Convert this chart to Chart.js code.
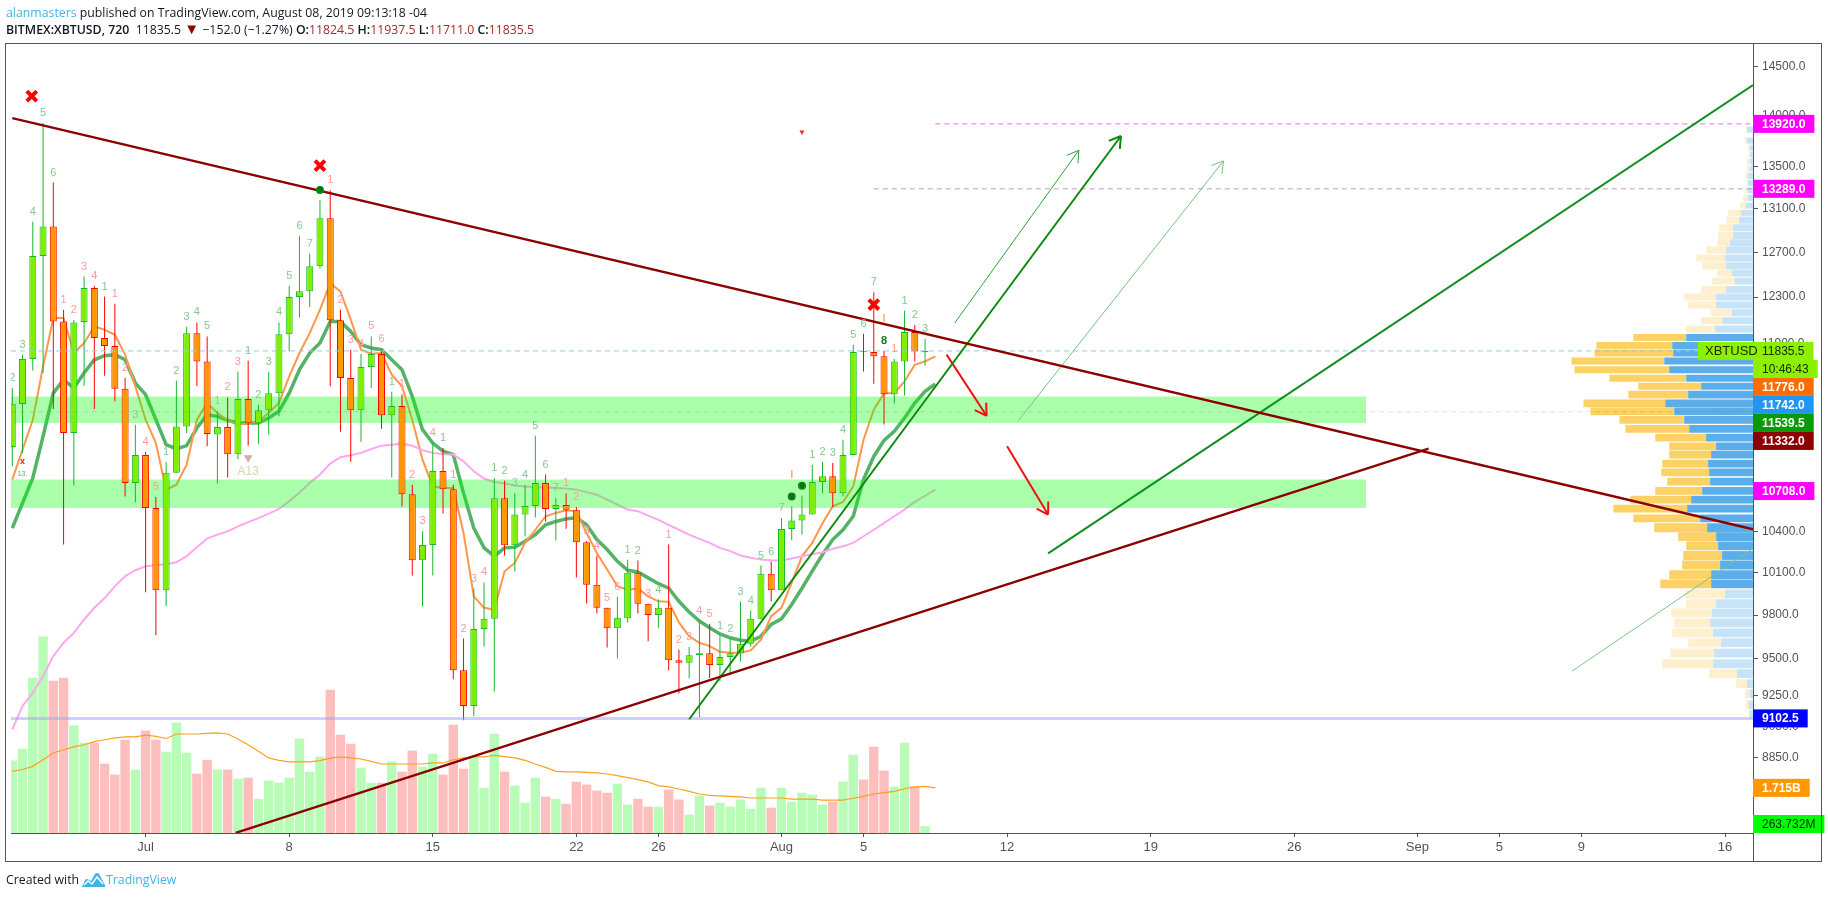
<!DOCTYPE html>
<html>
<head>
<meta charset="utf-8">
<title>XBTUSD</title>
<script src="https://cdn.jsdelivr.net/npm/chart.js@4.4.0/dist/chart.umd.min.js"></script>
<style>
    html, body { margin: 0; background: #fff; overflow: hidden; }
    body { width: 1828px; height: 898px; position: relative; font-family: "Open Sans", sans-serif; color: #131722; }
    canvas { position: absolute; left: 0; top: 0; display: block; }
    .line { position: absolute; left: 6px; white-space: nowrap; font-size: 12.3px; line-height: 18px; }
    .line b { font-weight: 600; }
    .blue { color: #3fb4e6; }
    .red { color: #a52a2a; }
    .mark { color: #8b0000; font-size: 15px; line-height: 10px; }
    .frame { position: absolute; left: 5px; top: 43px; width: 1815px; height: 817px; border: 1px solid #50535e; pointer-events: none; }
    .stub { position: absolute; left: 1753px; top: 833px; width: 1px; height: 28px; background: #50535e; }
    .logo { position: absolute; left: 82px; top: 872px; }
</style>
</head>
<body>
<canvas id="chart" width="1828" height="898"></canvas>
<div class="frame"></div>
<div class="stub"></div>
<div class="line" style="top:4px"><span class="blue">alanmasters</span> published on TradingView.com, August 08, 2019 09:13:18 -04</div>
<div class="line" style="top:21px"><b>BITMEX:XBTUSD, 720</b>&nbsp; 11835.5 <span class="mark">▼</span> −152.0 (−1.27%) <b>O:</b><span class="red">11824.5</span> <b>H:</b><span class="red">11937.5</span> <b>L:</b><span class="red">11711.0</span> <b>C:</b><span class="red">11835.5</span></div>
<div class="line" style="top:871px">Created with</div>
<svg class="logo" width="24" height="16" viewBox="0 0 24 16"><path d="M0 15 L3 8 Q5 6 7 8 L9 9 L13 2 Q15 0 17 2 L23 13 L23 15 Z" fill="#3fb4e6"/><path d="M2 13 L6 9 L10 12 L15 5 L21 12" fill="none" stroke="#fff" stroke-width="1.4"/></svg>
<div class="line blue" style="top:871px;left:106px">TradingView</div>

<script>
// XBTUSD 12h bars, bar 0 is Jul 1
const firstBar = -13;
const barOpen = [11051, 11395, 11767, 12665, 12936, 12088, 11161, 12082, 12379, 11945, 11877, 11521, 10770, 10988, 10580, 9976, 10848, 11214, 11987, 11747, 11150, 11209, 10993, 11435, 11240, 11344, 11484, 11978, 12300, 12352, 12574, 13013, 12097, 11609, 11344, 11700, 11810, 11303, 11378, 10684, 10191, 10304, 10863, 10722, 9422, 9184, 9703, 9774, 10654, 10302, 10530, 10595, 10770, 10572, 10602, 10565, 10324, 10014, 9851, 9708, 9778, 10100, 9879, 9800, 9851, 9489, 9471, 9522, 9536, 9456, 9511, 9536, 9601, 9774, 10093, 9976, 10421, 10485, 10530, 10777, 10822, 10692, 10988, 11832, 11826, 11790, 11475, 11747, 11996, 11824.5];
const barHigh = [11526, 11804, 12979, 13925, 13349, 12189, 12101, 12482, 12400, 12305, 12241, 11609, 11228, 11012, 10662, 10932, 11585, 12041, 12079, 11959, 11336, 11449, 11663, 11752, 11390, 11661, 12079, 12400, 12850, 12686, 13184, 13275, 12189, 11845, 11810, 11959, 11850, 11495, 11475, 10757, 10404, 11082, 11043, 10757, 9637, 9988, 10031, 10809, 10788, 10692, 10757, 11140, 10835, 10654, 10692, 10587, 10330, 10226, 9851, 9928, 10196, 10189, 9879, 9909, 10307, 9562, 9580, 9756, 9740, 9658, 9637, 9895, 9832, 10153, 10182, 10502, 10590, 10672, 10912, 10935, 10925, 11108, 11888, 11981, 12343, 11836, 11767, 12180, 12056, 11937.5];
const barLow = [10899, 11004, 11672, 11650, 11355, 10307, 10752, 11545, 11355, 11628, 11417, 10667, 10622, 9961, 9660, 9862, 10848, 11161, 11540, 11056, 10765, 10812, 10955, 11061, 11077, 11148, 11295, 11830, 12122, 12212, 12553, 11540, 11172, 10935, 11092, 11526, 11195, 10812, 10590, 10081, 9860, 10081, 10537, 9360, 9090, 9116, 9583, 9280, 10226, 10110, 10368, 10507, 10476, 10336, 10424, 10067, 9881, 9811, 9575, 9500, 9749, 9811, 9619, 9712, 9422, 9266, 9367, 9111, 9367, 9349, 9389, 9480, 9580, 9769, 9895, 9976, 10338, 10380, 10530, 10692, 10587, 10667, 10988, 11663, 11562, 11230, 11400, 11465, 11747, 11711];
const barClose = [11398, 11768, 12665, 12936, 12088, 11161, 12079, 12379, 11945, 11877, 11521, 10770, 10988, 10580, 9976, 10848, 11214, 11987, 11747, 11153, 11209, 10993, 11435, 11240, 11344, 11484, 11978, 12300, 12352, 12574, 13013, 12097, 11609, 11344, 11700, 11810, 11303, 11378, 10684, 10191, 10304, 10863, 10722, 9422, 9184, 9703, 9774, 10654, 10302, 10530, 10595, 10770, 10572, 10602, 10565, 10324, 10014, 9851, 9708, 9781, 10100, 9879, 9800, 9851, 9489, 9471, 9522, 9536, 9456, 9511, 9536, 9601, 9774, 10093, 9976, 10421, 10485, 10530, 10777, 10822, 10692, 10988, 11826, 11826, 11790, 11475, 11747, 11996, 11830, 11835.5];
// volume in billions
const barVolume = [2.75, 3.20, 5.90, 7.46, 5.78, 5.90, 4.08, 3.43, 3.43, 2.63, 2.22, 3.54, 2.41, 3.89, 3.54, 3.09, 4.19, 3.05, 2.25, 2.78, 2.41, 2.41, 2.06, 2.10, 1.30, 1.99, 1.91, 2.10, 3.58, 2.33, 2.90, 5.44, 3.73, 3.39, 2.48, 1.91, 1.91, 2.71, 2.33, 3.13, 2.52, 3.01, 2.22, 4.11, 2.44, 2.90, 1.72, 3.77, 2.33, 1.80, 1.15, 2.10, 1.38, 1.30, 1.11, 1.95, 1.84, 1.61, 1.53, 1.87, 1.08, 1.30, 1.00, 1.00, 1.65, 1.27, 0.70, 1.42, 1.04, 1.15, 1.00, 1.27, 0.92, 1.72, 0.96, 1.72, 1.19, 1.53, 1.46, 1.08, 1.19, 1.95, 2.97, 2.03, 3.28, 2.37, 1.76, 3.43, 1.78, 0.264];
const volumeUp = [1, 1, 1, 1, 0, 0, 1, 1, 0, 0, 0, 0, 1, 0, 0, 1, 1, 1, 0, 0, 1, 0, 1, 0, 1, 1, 1, 1, 1, 1, 1, 0, 0, 0, 1, 1, 0, 1, 0, 0, 1, 1, 0, 0, 0, 1, 1, 1, 0, 1, 1, 1, 0, 1, 0, 0, 0, 0, 0, 1, 1, 0, 0, 1, 0, 0, 1, 1, 0, 1, 1, 1, 1, 1, 0, 1, 1, 1, 1, 1, 0, 1, 1, 0, 0, 0, 1, 1, 0, 1];
// these run one bar past the last candle
const maVolume = [2.34, 2.41, 2.53, 2.78, 3.04, 3.16, 3.27, 3.35, 3.47, 3.54, 3.61, 3.65, 3.65, 3.72, 3.67, 3.59, 3.76, 3.76, 3.76, 3.78, 3.80, 3.76, 3.57, 3.35, 3.10, 2.85, 2.76, 2.70, 2.70, 2.70, 2.75, 2.84, 2.89, 2.85, 2.81, 2.72, 2.62, 2.62, 2.62, 2.62, 2.62, 2.66, 2.66, 2.78, 2.85, 2.89, 2.89, 2.95, 2.90, 2.85, 2.76, 2.62, 2.49, 2.34, 2.32, 2.32, 2.30, 2.28, 2.24, 2.18, 2.10, 2.03, 1.94, 1.80, 1.75, 1.67, 1.58, 1.48, 1.43, 1.41, 1.39, 1.37, 1.33, 1.33, 1.33, 1.33, 1.29, 1.29, 1.29, 1.25, 1.25, 1.25, 1.32, 1.39, 1.48, 1.53, 1.58, 1.68, 1.75, 1.77, 1.715];
const maFast = [10797, 11030, 11268, 11705, 12117, 12117, 11818, 11902, 12045, 12016, 11973, 11804, 11540, 11268, 11082, 10717, 10757, 10912, 11268, 11403, 11322, 11263, 11228, 11241, 11255, 11322, 11403, 11622, 11818, 11987, 12189, 12423, 12349, 12103, 11846, 11812, 11818, 11636, 11540, 11268, 10951, 10744, 10731, 10731, 10392, 9932, 9851, 9839, 10112, 10172, 10319, 10416, 10517, 10542, 10562, 10554, 10392, 10245, 10124, 10005, 9978, 9990, 9932, 9897, 9893, 9749, 9653, 9608, 9585, 9546, 9540, 9540, 9556, 9630, 9792, 9851, 10029, 10220, 10319, 10465, 10592, 10625, 10744, 11108, 11349, 11484, 11484, 11581, 11719, 11747, 11790];
const maMid = [10428, 10617, 10809, 11134, 11484, 11595, 11526, 11650, 11761, 11795, 11804, 11761, 11567, 11471, 11268, 11069, 11035, 11061, 11201, 11309, 11295, 11263, 11241, 11241, 11241, 11282, 11336, 11484, 11678, 11818, 11902, 12088, 12088, 12001, 11888, 11860, 11846, 11761, 11678, 11457, 11188, 11082, 11017, 10991, 10692, 10429, 10282, 10221, 10282, 10287, 10331, 10380, 10453, 10478, 10497, 10507, 10453, 10343, 10270, 10184, 10119, 10107, 10064, 10022, 9990, 9897, 9821, 9758, 9712, 9669, 9642, 9626, 9619, 9653, 9735, 9774, 9874, 9990, 10112, 10233, 10343, 10416, 10517, 10797, 10976, 11103, 11175, 11282, 11403, 11498, 11559];
const maSlow = [9032, 9184, 9271, 9383, 9516, 9608, 9676, 9769, 9851, 9920, 10005, 10076, 10119, 10148, 10155, 10162, 10177, 10221, 10287, 10351, 10380, 10404, 10441, 10473, 10503, 10537, 10572, 10630, 10697, 10770, 10835, 10920, 10970, 10986, 11004, 11035, 11061, 11069, 11077, 11061, 11025, 11004, 10994, 10991, 10938, 10860, 10804, 10778, 10766, 10750, 10743, 10738, 10735, 10732, 10727, 10719, 10700, 10680, 10642, 10605, 10567, 10555, 10522, 10490, 10453, 10416, 10380, 10348, 10319, 10282, 10258, 10226, 10209, 10196, 10191, 10189, 10204, 10221, 10236, 10250, 10275, 10294, 10319, 10368, 10416, 10465, 10517, 10567, 10625, 10672, 10719];
// sequential count printed over each bar
const countDigits = [2, 3, 4, 5, 6, 1, 2, 3, 4, 1, 1, 2, 3, 4, 5, 1, 2, 3, 4, 5, 1, 2, 3, 1, 2, 3, 4, 5, 6, 7, 9, 1, 2, 3, 4, 5, 6, 1, 1, 2, 3, 4, 1, 1, 2, 3, 4, 1, 2, 3, 4, 5, 6, 7, 1, 2, 3, 4, 5, 6, 1, 2, 3, 4, 1, 2, 3, 4, 5, 1, 2, 3, 4, 5, 6, 7, 8, 9, 1, 2, 3, 4, 5, 6, 7, 8, 1, 1, 2, 3];
const countKinds = 'gggggrrrrgrrgrrgggggrrrgggggggGrrrrrrgrrrrgrrrrgggggggrrrrrrggrgrrrrrgggggggGGgggggggGrggg'.split('');
const countCircled = [17, 63, 64];
const crossBars = [-11.1, 17, 71];
const crossPrices = [14199, 13511, 12234];

// volume profile rows, price, then blue and yellow row lengths
const profilePrices = [13862, 13755, 13686, 13618, 13550, 13482, 13412, 13343, 13274, 13203, 13131, 13063, 12995, 12924, 12853, 12786, 12720, 12647, 12577, 12512, 12441, 12367, 12300, 12230, 12163, 12094, 12022, 11950, 11882, 11818, 11750, 11678, 11606, 11540, 11471, 11400, 11336, 11266, 11195, 11124, 11056, 10990, 10920, 10852, 10780, 10710, 10642, 10574, 10501, 10431, 10365, 10297, 10226, 10157, 10088, 10021, 9949, 9881, 9816, 9746, 9676, 9608, 9537, 9465, 9398, 9331, 9264, 9192, 9129];
const profileBlue = [6, 6, 3, 3, 3, 3, 5, 5, 5, 5, 7, 12, 14, 20, 20, 23, 27, 28, 27, 21, 18, 27, 37, 37, 21, 31, 38, 67, 81, 80, 89, 84, 67, 52, 65, 88, 79, 69, 64, 47, 37, 42, 45, 44, 43, 51, 62, 66, 53, 46, 37, 35, 31, 33, 42, 42, 28, 37, 41, 43, 40, 32, 39, 40, 16, 6, 3, 4, 3];
const profileYellow = [1, 2, 2, 1, 3, 3, 2, 1, 3, 5, 6, 13, 13, 14, 15, 13, 20, 29, 24, 15, 23, 25, 32, 28, 21, 21, 29, 53, 76, 79, 93, 95, 77, 63, 60, 82, 84, 65, 64, 51, 47, 42, 46, 48, 43, 47, 61, 74, 67, 53, 38, 32, 39, 38, 42, 51, 40, 30, 41, 36, 41, 33, 44, 51, 28, 11, 5, 3, 1];
const valueAreaHigh = 11950;
const valueAreaLow = 10021;

// drawn zones and lines, bars then prices
const zoneBars = [-14, 119];
const upperZone = [11457, 11241];
const lowerZone = [10797, 10580];
const downTrendBars = [-13, 156.73];
const downTrendPrices = [13978, 10420];
const upTrendBars = [8.78, 125.1];
const upTrendPrices = [8388, 11037];
const channelBars = [88, 156.73];
const channelPrices = [10242, 14311];
const steepBars = [53, 95.1];
const steepPrices = [9097, 13800];
const thinArrowBars = [78.9, 91];
const thinArrowPrices = [12075, 13660];
const paleArrowBars = [85.1, 105.1];
const paleArrowPrices = [11261, 13556];
const paleLineBars = [139.1, 156.73];
const paleLinePrices = [9416, 10277];
const redArrowBars = [78.1, 82];
const redArrowPrices = [11804, 11300];
const redArrow2Bars = [84, 88];
const redArrow2Prices = [11056, 10530];

// axes
const priceTicks = [14500, 14000, 13500, 13100, 12700, 12300, 11900, 11500, 11100, 10700, 10400, 10100, 9800, 9500, 9250, 9050, 8850];
const timeTicks = [0, 14, 28, 42, 50, 62, 70, 84, 98, 112, 124, 132, 140, 154];
const timeLabels = ['Jul', '8', '15', '22', '26', 'Aug', '5', '12', '19', '26', 'Sep', '5', '9', '16'];

// tags on the price axis
const tagPrices = [13920, 13289, 11835.5, null, 11776, 11742, 11539.5, 11332, 10708, 9102.5];
const tagTexts = ['13920.0', '13289.0', '11835.5', '10:46:43', '11776.0', '11742.0', '11539.5', '11332.0', '10708.0', '9102.5'];
const tagColors = ['#ff00ff', '#ff00ff', '#8cf000', '#8cf000', '#ff6d00', '#2196f3', '#089a08', '#8b0000', '#ff00ff', '#0000ff'];
const tagInks = ['#fff', '#fff', '#1a2a00', '#1a2a00', '#fff', '#fff', '#fff', '#fff', '#fff', '#fff'];
const volumeTagValues = [1.715, 0.263732];
const volumeTagTexts = ['1.715B', '263.732M'];
const volumeTagColors = ['#ff9800', '#00ff00'];
const volumeTagInks = ['#fff', '#0a2a0a'];

const UP_FILL = '#80ee00', UP_EDGE = '#14b82c', DOWN_FILL = '#ff9800', DOWN_EDGE = '#ff0000';
const barIndex = barOpen.map((_, k) => firstBar + k);
const maIndex = maFast.map((_, k) => firstBar + k);
const isUp = k => barClose[k] >= barOpen[k];

function pairs(xs, ys) {
    return xs.map((x, k) => ({x: x, y: ys[k]}));
}

// straight line between points on the price scale
function priceLine(xs, ys, color, width, order, extra) {
    return Object.assign({
        type: 'line', data: pairs(xs, ys), borderColor: color, borderWidth: width,
        pointRadius: 0, tension: 0, fill: false, order: order, yAxisID: 'y', xAxisID: 'x'
    }, extra || {});
}

// flat band between two prices
function zone(prices) {
    return priceLine(zoneBars, [prices[0], prices[0]], 'transparent', 0, 90, {
        fill: {value: prices[1]}, backgroundColor: 'rgba(0,255,0,0.333)'
    });
}

// profile rows get taller down the log scale, so split them by thickness
function profileSets() {
    const sets = [];
    [[13000, 20000, 6], [11500, 13000, 7], [10500, 11500, 7.8], [0, 10500, 8.8]].forEach(band => {
        const rows = profilePrices.map((p, k) => k).filter(k => profilePrices[k] >= band[0] && profilePrices[k] < band[1]);
        const inArea = k => profilePrices[k] <= valueAreaHigh && profilePrices[k] >= valueAreaLow;
        const common = {type: 'bar', indexAxis: 'y', order: 70, xAxisID: 'profile', yAxisID: 'y', grouped: false, barThickness: band[2], inflateAmount: 0};
        sets.push(Object.assign({}, common, {
            data: rows.map(k => ({y: profilePrices[k], x: [0, profileBlue[k]]})),
            backgroundColor: rows.map(k => inArea(k) ? '#5baeea' : '#c6e3f7')
        }));
        sets.push(Object.assign({}, common, {
            data: rows.map(k => ({y: profilePrices[k], x: [profileBlue[k], profileBlue[k] + profileYellow[k]]})),
            backgroundColor: rows.map(k => inArea(k) ? '#fcd166' : '#feefcf')
        }));
    });
    return sets;
}

const datasets = [
    // volume sits behind everything
    {
        type: 'bar', order: 120, xAxisID: 'x', yAxisID: 'vol', grouped: false, barThickness: 9.4, inflateAmount: 0,
        data: pairs(barIndex, barVolume),
        backgroundColor: volumeUp.map(v => v ? '#b8fcb8' : '#fdbebe')
    },
    priceLine(maIndex, maVolume, '#ff9f1a', 1.2, 110, {yAxisID: 'vol'}),
    priceLine(maIndex, maSlow, '#ffa6f0', 2, 100),
    priceLine(maIndex, maFast, '#ff9648', 2, 100),
    priceLine(maIndex, maMid, '#55b368', 3.5, 100),
    // zones go over the averages, candles go over the zones
    zone(upperZone),
    zone(lowerZone),
    ...profileSets(),
    // candles
    {
        type: 'bar', order: 60, xAxisID: 'x', yAxisID: 'y', grouped: false, barThickness: 1, inflateAmount: 0,
        data: barIndex.map((x, k) => ({x: x, y: [barLow[k], barHigh[k]]})),
        backgroundColor: barIndex.map((_, k) => isUp(k) ? UP_EDGE : DOWN_EDGE)
    },
    {
        type: 'bar', order: 50, xAxisID: 'x', yAxisID: 'y', grouped: false, barThickness: 7, inflateAmount: 0,
        borderWidth: 1, borderSkipped: false,
        data: barIndex.map((x, k) => ({x: x, y: [barOpen[k], barClose[k]]})),
        backgroundColor: barIndex.map((_, k) => isUp(k) ? UP_FILL : DOWN_FILL),
        borderColor: barIndex.map((_, k) => isUp(k) ? UP_EDGE : DOWN_EDGE)
    },
    // horizontal price lines
    priceLine([-14, 157], [11835.5, 11835.5], '#98c8ee', 1, 40, {borderDash: [5, 4]}),
    priceLine([-14, 157], [11332, 11332], 'rgba(120,120,120,0.22)', 1, 40, {borderDash: [5, 4]}),
    priceLine([-14, 157], [9102.5, 9102.5], 'rgba(160,160,255,0.5)', 3, 40),
    priceLine([77, 157], [13920, 13920], '#f46cf4', 1, 40, {borderDash: [5, 4]}),
    priceLine([71, 157], [13289, 13289], '#c49ac4', 1, 40, {borderDash: [5, 4]}),
    // drawn trend lines and arrows
    priceLine(downTrendBars, downTrendPrices, '#8b0000', 2.4, 10),
    priceLine(upTrendBars, upTrendPrices, '#8b0000', 2.4, 10),
    priceLine(channelBars, channelPrices, '#0f8f1f', 2, 10),
    priceLine(steepBars, steepPrices, '#0a8a0a', 2, 10, {arrow: true}),
    priceLine(thinArrowBars, thinArrowPrices, '#2aa53a', 1, 10, {arrow: true}),
    priceLine(paleArrowBars, paleArrowPrices, '#74c47e', 1, 10, {arrow: true}),
    priceLine(paleLineBars, paleLinePrices, '#78c684', 1, 10),
    priceLine(redArrowBars, redArrowPrices, '#f01010', 2, 10, {arrow: true}),
    priceLine(redArrow2Bars, redArrow2Prices, '#f01010', 2, 10, {arrow: true}),
    // red crosses and triangles
    priceLine(crossBars, crossPrices, '#ff0000', 4, 5, {showLine: false, pointStyle: 'crossRot', pointRadius: 7, pointBorderColor: '#ff0000', pointBorderWidth: 4}),
    priceLine([10], [10966], 'rgba(170,110,110,0.55)', 0, 5, {showLine: false, pointStyle: 'triangle', pointRotation: 180, pointRadius: 5, pointBackgroundColor: 'rgba(170,110,110,0.55)', pointBorderWidth: 0}),
    priceLine([64], [13839], '#f03030', 0, 5, {showLine: false, pointStyle: 'triangle', pointRotation: 180, pointRadius: 3, pointBackgroundColor: '#f03030', pointBorderWidth: 0})
];

// barbs on the lines flagged as arrows
const arrowHeads = {
    id: 'arrowHeads',
    afterDatasetsDraw(chart) {
        const ctx = chart.ctx;
        chart.data.datasets.forEach((ds, n) => {
            if (!ds.arrow) return;
            const pts = chart.getDatasetMeta(n).data;
            const a = pts[0], b = pts[pts.length - 1];
            const ang = Math.atan2(b.y - a.y, b.x - a.x);
            ctx.save();
            ctx.strokeStyle = ds.borderColor;
            ctx.lineWidth = ds.borderWidth;
            ctx.beginPath();
            [-0.55, 0.55].forEach(off => {
                ctx.moveTo(b.x, b.y);
                ctx.lineTo(b.x - 13 * Math.cos(ang + off), b.y - 13 * Math.sin(ang + off));
            });
            ctx.stroke();
            ctx.restore();
        });
    }
};

// count digits above the highs plus the small text marks
const barMarks = {
    id: 'barMarks',
    afterDatasetsDraw(chart) {
        const ctx = chart.ctx, xs = chart.scales.x, ys = chart.scales.y;
        const tones = {g: '#86c98e', r: '#ff9a9a', G: '#0a7d14'};
        ctx.save();
        ctx.beginPath();
        ctx.rect(chart.chartArea.left, chart.chartArea.top, chart.chartArea.width, chart.chartArea.height);
        ctx.clip();
        ctx.textAlign = 'center';
        ctx.textBaseline = 'middle';
        barIndex.forEach((bar, k) => {
            const x = xs.getPixelForValue(bar), y = ys.getPixelForValue(barHigh[k]) - 10;
            const kind = countKinds[k];
            if (countCircled.includes(bar)) {
                ctx.fillStyle = '#0a8a14';
                ctx.beginPath();
                ctx.arc(x, y, 4, 0, Math.PI * 2);
                ctx.fill();
                ctx.fillStyle = '#06500c';
                ctx.font = '8px "Liberation Sans"';
            } else {
                ctx.fillStyle = tones[kind];
                ctx.font = (kind === 'G' ? 'bold ' : '') + '11px "Liberation Sans"';
            }
            ctx.fillText(String(countDigits[k]), x, y);
        });
        ctx.font = '12px "Liberation Sans"';
        ctx.fillStyle = 'rgba(205,195,150,0.75)';
        ctx.fillText('A13', xs.getPixelForValue(10), ys.getPixelForValue(10860));
        ctx.font = 'bold 11px "Liberation Sans"';
        ctx.fillStyle = '#ffb070';
        ctx.fillText('I', xs.getPixelForValue(63), ys.getPixelForValue(10830));
        ctx.fillText('I', xs.getPixelForValue(72), ys.getPixelForValue(12108));
        ctx.font = 'bold 9px "Liberation Sans"';
        ctx.fillStyle = '#f02020';
        ctx.fillText('x', xs.getPixelForValue(-12), ys.getPixelForValue(10938));
        ctx.font = '7px "Liberation Sans"';
        ctx.fillStyle = '#60a868';
        ctx.fillText('13.', xs.getPixelForValue(-12), ys.getPixelForValue(10835));
        ctx.restore();
    }
};

// coloured boxes on the axis, they stack when prices are close
const axisTags = {
    id: 'axisTags',
    afterDraw(chart) {
        const ctx = chart.ctx, ys = chart.scales.y, left = chart.chartArea.right, ROW = 18;
        function tag(text, y, fill, ink, bold, minWidth) {
            ctx.font = (bold ? 'bold ' : '') + '12px "Liberation Sans"';
            ctx.fillStyle = fill;
            ctx.fillRect(left, y - ROW / 2, Math.max(ctx.measureText(text).width + 18, minWidth || 0), ROW);
            ctx.fillStyle = ink;
            ctx.textAlign = 'left';
            ctx.textBaseline = 'middle';
            ctx.fillText(text, left + 9, y + 0.5);
        }
        ctx.save();
        let lastY = -100;
        tagPrices.forEach((price, k) => {
            const y = price === null ? lastY + ROW : Math.max(ys.getPixelForValue(price), lastY + ROW);
            tag(tagTexts[k], y, tagColors[k], tagInks[k], tagInks[k] === '#fff', tagPrices[k] === null ? 60 : 0);
            lastY = y;
        });
        // symbol box left of the last price
        const lastPriceY = ys.getPixelForValue(11835.5);
        ctx.fillStyle = '#8cf000';
        ctx.fillRect(left - 55, lastPriceY - ROW / 2, 55, ROW);
        ctx.fillStyle = '#1a2a00';
        ctx.font = '13px "Liberation Sans Narrow", "Liberation Sans"';
        ctx.fillText('XBTUSD', left - 48, lastPriceY + 0.5);
        volumeTagValues.forEach((v, k) => {
            const y = Math.min(chart.scales.vol.getPixelForValue(v), chart.chartArea.bottom - ROW / 2);
            tag(volumeTagTexts[k], y, volumeTagColors[k], volumeTagInks[k], k === 0);
        });
        ctx.restore();
    }
};

new Chart(document.getElementById('chart'), {
    type: 'bar',
    data: {datasets: datasets},
    plugins: [arrowHeads, barMarks, axisTags],
    options: {
        responsive: false,
        animation: false,
        layout: {padding: {left: 6, top: 43, right: 7, bottom: 37}},
        plugins: {legend: {display: false}, tooltip: {enabled: false}},
        scales: {
            x: {
                type: 'linear', position: 'bottom', min: -13.126, max: 156.73, offset: false,
                afterBuildTicks: axis => { axis.ticks = timeTicks.map(v => ({value: v})); },
                // no extra room for the edge labels, the plot goes to the frame
                afterFit: axis => { axis.height = 28; axis.paddingLeft = 0; axis.paddingRight = 0; },
                grid: {display: true, drawOnChartArea: false, drawTicks: true, tickLength: 4, color: '#50535e', offset: false},
                border: {color: '#50535e'},
                ticks: {
                    autoSkip: false, maxRotation: 0, padding: 3, color: '#50535e',
                    font: {family: '"Liberation Sans"', size: 13},
                    callback: value => timeLabels[timeTicks.indexOf(value)]
                }
            },
            y: {
                type: 'logarithmic', position: 'right', min: 8387, max: 14748, offset: false,
                afterBuildTicks: axis => { axis.ticks = priceTicks.map(v => ({value: v})); },
                afterFit: axis => { axis.width = 68; axis.paddingTop = 0; axis.paddingBottom = 0; },
                grid: {display: true, drawOnChartArea: false, drawTicks: true, tickLength: 5, color: '#50535e', offset: false},
                border: {color: '#50535e'},
                ticks: {
                    autoSkip: false, padding: 4, color: '#50535e',
                    font: {family: '"Liberation Sans"', size: 12},
                    callback: value => Number(value).toFixed(1)
                }
            },
            // hidden, volume bars take the bottom of the plot
            vol: {type: 'linear', axis: 'y', display: false, min: 0, max: 30},
            // hidden, profile rows grow left from the price axis
            profile: {type: 'linear', axis: 'x', display: false, min: 0, max: 1747, reverse: true, offset: false}
        }
    }
});
</script>
</body>
</html>
